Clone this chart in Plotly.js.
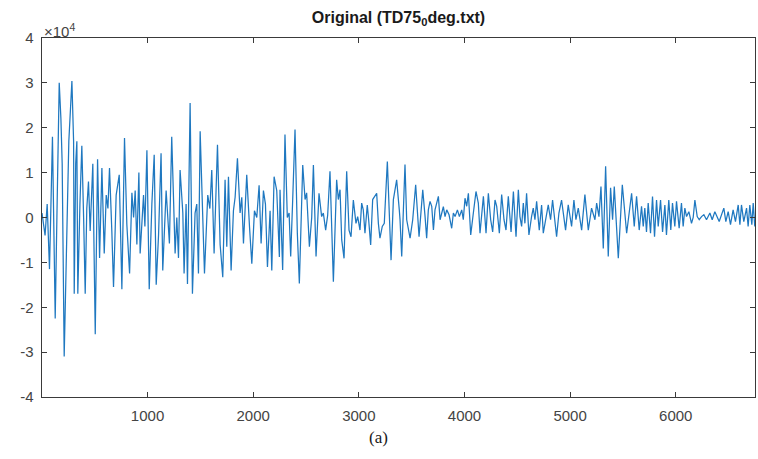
<!DOCTYPE html>
<html>
<head>
<meta charset="utf-8">
<script src="https://cdn.plot.ly/plotly-3.0.1.min.js"></script>
<style>
  html, body { margin: 0; padding: 0; background: #ffffff; }
  #chart { width: 758px; height: 459px; }
</style>
</head>
<body>
<div id="chart"></div>
<script>
// Waveform of TD75_0deg.txt: sample index and amplitude (in units of 10^4)
const sampleIndex = [
  1, 30, 50, 72, 100, 112, 126, 142, 164, 180, 192, 211, 236, 255, 284, 300, 306, 320, 331, 340,
  360, 378, 395, 410, 425, 441, 457, 470, 482, 505, 527, 546, 568, 590, 609, 625, 640, 662, 678, 703,
  732, 757, 782, 804, 830, 852, 868, 883, 899, 918, 930, 962, 975, 994, 1016, 1041, 1063, 1082, 1104,
  1128, 1144, 1176, 1207, 1229, 1261, 1277, 1293, 1308, 1334, 1346, 1365, 1378, 1403, 1425, 1450, 1466, 1482, 1498, 1523,
  1539, 1570, 1590, 1608, 1630, 1662, 1687, 1712, 1734, 1750, 1766, 1791, 1813, 1829, 1851, 1876, 1892, 1908, 1939, 1965,
  1987, 2012, 2034, 2056, 2075, 2097, 2116, 2135, 2160, 2176, 2198, 2223, 2248,
  2254, 2279, 2301, 2323, 2340, 2355, 2374, 2396, 2418, 2437, 2469, 2491, 2506, 2532, 2554, 2570, 2595, 2623, 2648, 2664,
  2686, 2705, 2727, 2759, 2790, 2806, 2822, 2838, 2860, 2885, 2907, 2926, 2948, 2973, 2989, 3011, 3027, 3042, 3058, 3080,
  3093, 3112, 3131, 3153, 3169, 3185, 3200, 3222, 3241, 3270, 3286, 3305, 3327, 3358, 3383,
  3390, 3406, 3437, 3453, 3485, 3510, 3538, 3570, 3589, 3605, 3627, 3642, 3658, 3674, 3690, 3706, 3721, 3753, 3769, 3784,
  3800, 3816, 3832, 3854, 3879, 3895, 3911, 3933, 3952, 3974, 3989, 4005, 4021, 4037, 4059, 4084, 4109, 4131, 4147, 4179,
  4204, 4226, 4248, 4267, 4289, 4305, 4330, 4352, 4374, 4393, 4415, 4441, 4463, 4488, 4510,
  4525, 4541, 4557, 4572, 4588, 4610, 4635, 4651, 4667, 4683, 4708, 4730, 4746, 4771, 4793, 4815, 4834, 4872, 4894, 4919,
  4957, 4982, 5014, 5036, 5055, 5077, 5109, 5140, 5172, 5203, 5235, 5251, 5273, 5292, 5314, 5336, 5361, 5383, 5402, 5418,
  5456, 5494, 5535, 5582, 5607, 5629, 5654,
  5676, 5692, 5707, 5723, 5739, 5761, 5780, 5799, 5818, 5834, 5856, 5875, 5897, 5912, 5934, 5953, 5969, 5991, 6007, 6032,
  6054, 6070, 6086, 6102, 6124, 6149, 6165, 6181, 6203, 6222, 6244, 6266, 6291, 6323, 6345, 6370, 6411, 6455, 6474, 6496,
  6518, 6543, 6565, 6591, 6607, 6622, 6644, 6670, 6685, 6701, 6720, 6733, 6748
];

const amplitudeE4 = [
  0.1, -0.4, 0.3, -1.15, 1.8, 0.2, -2.25, 0.0, 3.0, 2.2, 1.2, -3.1, -0.3, 1.7, 3.04, 1.7, -1.7, 1.2, 1.7, -1.7,
  0.3, 1.6, 0.0, -1.7, 0.2, 0.8, -0.3, 0.5, 1.2, -2.6, 1.3, -0.9, 1.1, -0.8, 0.5, 0.2, 1.1, -0.3, -1.55, 0.5,
  0.95, -1.6, 1.77, -0.15, -1.25, 0.55, 0.0, 0.6, -0.6, 1.0, -0.8, 0.5, -0.2, 1.5, -1.6, 0.3, 1.4, -1.5, -0.4,
  1.43, -1.18, 0.6, -0.58, 1.8, -0.8, 0.0, -0.9, 1.06, 0.1, -1.25, 0.3, -1.48, 2.55, -1.7, 0.1, 0.3, -1.25, 1.92, -0.4,
  -1.25, 0.5, 0.2, 1.06, -0.8, 1.62, -0.6, -1.33, 0.84, -0.65, 0.91, -1.18, 0.15, 0.45, 1.32, 0.1, 0.45, -0.58, 0.95, -0.2,
  -1.03, 0.15, 0.0, 0.72, -0.58, 0.6, 0.3, -1.1, 0.15, -1.18, 0.91, 0.6, -0.88,
  0.62, -1.17, 1.85, 0.0, 0.1, -0.87, 0.4, 1.96, -0.35, -1.47, 1.17, 0.4, 0.55, -0.65, 0.0, 1.17, -0.87, 0.54, 0.02, 0.1,
  -0.28, 0.05, 1.03, -1.43, 0.84, 0.4, 0.62, -0.5, -0.91, 1.03, -0.28, -0.43, 0.39, -0.13, 0.02, -0.28, 0.32, 0.17, -0.35, 0.28,
  -0.05, -0.61, 0.4, 0.47, 0.54, -0.13, -0.46, -0.2, -0.13, 1.25, 0.02, -0.95, 0.4, 0.84, 0.17,
  -0.05, -0.87, 1.18, -0.05, -0.46, -0.05, 0.73, -0.43, 0.17, 0.62, 0.02, -0.46, 0.17, 0.36, 0.25, -0.28, 0.17, 0.47, -0.05, 0.1,
  0.24, 0.02, 0.17, 0.06, -0.24, 0.1, 0.02, 0.17, 0.02, 0.17, -0.05, 0.43, 0.25, 0.54, -0.39, 0.1, 0.58, 0.32, -0.35, 0.47,
  -0.35, 0.54, -0.05, -0.32, 0.39, 0.25, -0.35, 0.51, -0.05, -0.28, 0.47, -0.32, 0.58, -0.43, 0.62,
  0.02, -0.2, 0.32, -0.13, 0.54, -0.39, 0.02, 0.21, -0.05, 0.36, -0.28, 0.28, -0.35, 0.02, 0.28, -0.05, 0.39, -0.43, 0.1, 0.39,
  -0.28, 0.28, -0.2, 0.39, -0.05, 0.21, -0.28, 0.51, -0.28, 0.21, -0.05, 0.32, 0.02, 0.69, -0.69, 1.14, -0.87, 0.66, -0.05, 0.69,
  -0.91, 0.73, -0.35, 0.54, -0.2, 0.47, -0.28,
  0.25, -0.2, 0.21, -0.32, 0.32, -0.35, 0.47, -0.43, 0.39, -0.2, 0.39, -0.32, 0.28, -0.39, 0.39, -0.28, 0.32, -0.2, 0.36, -0.24,
  0.32, -0.2, 0.21, 0.02, 0.13, -0.13, 0.0, 0.39, 0.02, -0.05, 0.02, 0.06, -0.05, 0.1, -0.05, 0.13, -0.09, 0.21, -0.09, 0.13,
  -0.16, 0.17, -0.09, 0.28, -0.16, 0.28, -0.09, 0.21, -0.2, 0.28, -0.16, 0.32, -0.2
];

const yTicks = [-4, -3, -2, -1, 0, 1, 2, 3, 4];
const xTicks = [1000, 2000, 3000, 4000, 5000, 6000];

const axisColor = '#3a3a3a';
const labelColor = '#444444';
const sans = '"Liberation Sans", Arial, Helvetica, sans-serif';

const trace = {
  type: 'scatter',
  mode: 'lines',
  x: sampleIndex,
  y: amplitudeE4,
  line: { color: '#1f78c0', width: 1.25 },
  hoverinfo: 'skip'
};

const layout = {
  width: 758,
  height: 459,
  margin: { l: 42, r: 3, t: 38, b: 62, pad: 0 },
  paper_bgcolor: '#ffffff',
  plot_bgcolor: '#ffffff',
  showlegend: false,
  font: { family: sans, size: 15, color: labelColor },
  title: {
    text: '<b>Original (TD75<sub>0</sub>deg.txt)</b>',
    font: { family: sans, size: 16, color: '#1a1a1a' },
    x: 0.5, xref: 'paper', xanchor: 'center',
    y: 1 - 17 / 459, yref: 'container', yanchor: 'middle'
  },
  xaxis: {
    range: [1, 6750],
    tickvals: xTicks,
    ticktext: xTicks.map(String),
    ticks: 'inside',
    ticklen: 5,
    tickwidth: 1,
    tickcolor: axisColor,
    showline: true,
    linecolor: axisColor,
    linewidth: 1.3,
    mirror: 'ticks',
    showgrid: false,
    zeroline: false,
    ticklabelstandoff: 5,
    tickfont: { family: sans, size: 15, color: labelColor }
  },
  yaxis: {
    range: [-4, 4],
    tickvals: yTicks,
    ticktext: yTicks.map(String),
    ticks: 'inside',
    ticklen: 5,
    tickwidth: 1,
    tickcolor: axisColor,
    showline: true,
    linecolor: axisColor,
    linewidth: 1.3,
    mirror: 'ticks',
    showgrid: false,
    zeroline: false,
    ticklabelstandoff: 4,
    tickfont: { family: sans, size: 15, color: labelColor }
  },
  annotations: [
    {
      text: '×10<sup>4</sup>',
      xref: 'paper', yref: 'paper',
      x: 0, y: 0.99,
      xanchor: 'left', yanchor: 'bottom',
      showarrow: false,
      font: { family: sans, size: 15, color: labelColor }
    },
    {
      text: '(a)',
      xref: 'paper', yref: 'paper',
      x: 0.4715, y: -0.1125,
      xanchor: 'center', yanchor: 'middle',
      showarrow: false,
      font: { family: '"Liberation Serif", "Times New Roman", serif', size: 17, color: '#1a1a1a' }
    }
  ]
};

Plotly.newPlot('chart', [trace], layout, { displayModeBar: false, staticPlot: true });
</script>
</body>
</html>
